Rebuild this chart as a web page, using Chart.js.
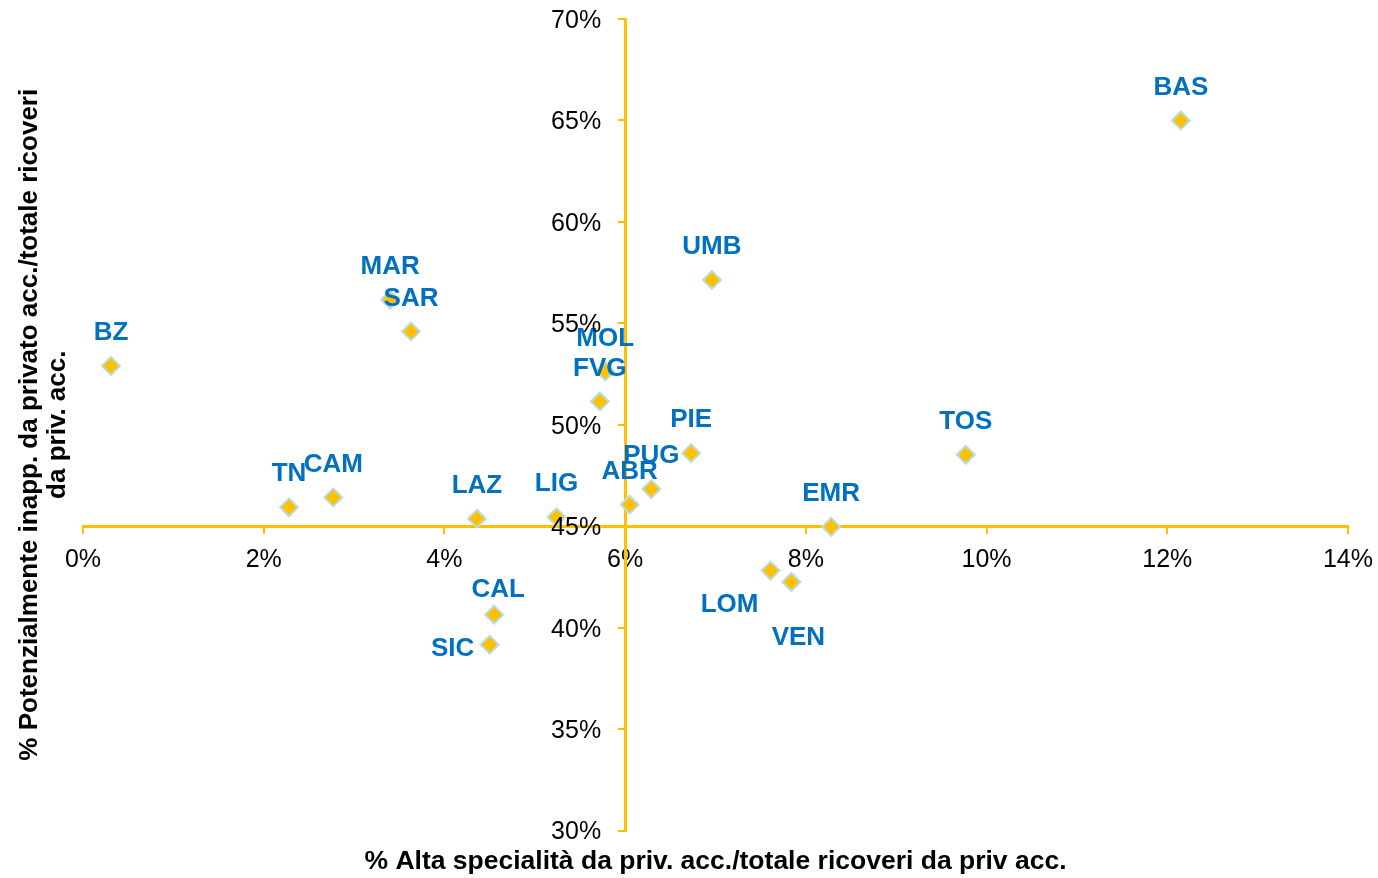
<!DOCTYPE html>
<html lang="it">
<head>
    <meta charset="UTF-8">
    <title>Alta specialità vs potenzialmente inappropriati</title>
    <script src="https://cdn.jsdelivr.net/npm/chart.js@4.4.0/dist/chart.umd.min.js"></script>
    <style>
        body {
            margin: 0;
            background-color: #fff;
        }
        #wrap {
            width: 1378px;
            height: 878px;
            position: relative;
        }
    </style>
</head>
<body>
    <div id="wrap">
        <canvas id="scatterChart"></canvas>
    </div>

    <script>
        // Regioni e valori (in %)
        const regioni = ['BAS', 'UMB', 'MAR', 'SAR', 'BZ', 'MOL', 'FVG', 'PIE', 'TOS', 'PUG',
                         'ABR', 'CAM', 'TN', 'LIG', 'LAZ', 'EMR', 'LOM', 'VEN', 'CAL', 'SIC'];
        const altaSpecialita = [12.15, 6.96, 3.40, 3.63, 0.31, 5.78, 5.72, 6.73, 9.77, 6.29,
                                6.05, 2.77, 2.28, 5.24, 4.36, 8.28, 7.61, 7.84, 4.55, 4.50];
        const inappropriati = [65.0, 57.14, 56.16, 54.6, 52.9, 52.63, 51.15, 48.6, 48.52, 46.83,
                               46.06, 46.42, 45.93, 45.45, 45.37, 44.97, 42.81, 42.25, 40.64, 39.16];
        const xTicks = [0, 2, 4, 6, 8, 10, 12, 14];
        const yTicks = [30, 35, 40, 45, 50, 55, 60, 65, 70];

        const giallo = '#FFC000';
        const blu = '#0070C0';
        const fontFam = '"Liberation Sans", Arial, sans-serif';

        // spostamento etichette rispetto al punto (px)
        const labelShift = {
            LOM: [-41, 34],
            VEN: [7, 56],
            SIC: [-37, 4],
            CAL: [4, -25]
        };

        const punti = regioni.map((r, i) => ({ x: altaSpecialita[i], y: inappropriati[i] }));

        const etichette = {
            id: 'etichette',
            afterDatasetsDraw(chart) {
                const ctx = chart.ctx;
                const meta = chart.getDatasetMeta(0);
                ctx.save();
                ctx.font = 'bold 26px ' + fontFam;
                ctx.fillStyle = blu;
                ctx.textAlign = 'center';
                ctx.textBaseline = 'middle';
                meta.data.forEach((el, i) => {
                    const s = labelShift[regioni[i]] || [0, -33];
                    ctx.fillText(regioni[i], el.x + s[0], el.y + s[1]);
                });
                ctx.restore();
            }
        };

        // etichette asse y a sinistra dell'asse che incrocia a 6%
        const tickY = {
            id: 'tickY',
            afterDraw(chart) {
                const ctx = chart.ctx;
                const xs = chart.scales.x;
                const ys = chart.scales.y;
                const xPos = xs.getPixelForValue(6) - 24;
                ctx.save();
                ctx.font = '25px ' + fontFam;
                ctx.fillStyle = '#000';
                ctx.textAlign = 'right';
                ctx.textBaseline = 'middle';
                ys.ticks.forEach(t => {
                    ctx.fillText(t.value + '%', xPos, ys.getPixelForValue(t.value) + 2);
                });
                ctx.restore();
            }
        };

        const ctx = document.getElementById('scatterChart').getContext('2d');
        new Chart(ctx, {
            type: 'scatter',
            data: {
                datasets: [{
                    data: punti,
                    pointStyle: 'rectRot',
                    pointRadius: 9,
                    pointHoverRadius: 9,
                    backgroundColor: giallo,
                    borderColor: '#B7DDE8',
                    borderWidth: 2
                }]
            },
            options: {
                responsive: true,
                maintainAspectRatio: false,
                animation: false,
                layout: {
                    padding: { left: 0, right: 30, top: 19, bottom: 0 }
                },
                scales: {
                    x: {
                        type: 'linear',
                        position: { y: 45 },
                        min: 0,
                        max: 14,
                        afterBuildTicks: (axis) => { axis.ticks = xTicks.map(v => ({ value: v })); },
                        ticks: {
                            color: '#000',
                            padding: 5,
                            font: { family: fontFam, size: 25, lineHeight: '46px' },
                            callback: (v) => v + '%'
                        },
                        grid: { drawOnChartArea: false, color: giallo, lineWidth: 2, tickLength: 6 },
                        border: { color: giallo, width: 3 }
                    },
                    y: {
                        type: 'linear',
                        position: { x: 6 },
                        min: 30,
                        max: 70,
                        afterBuildTicks: (axis) => { axis.ticks = yTicks.map(v => ({ value: v })); },
                        ticks: { display: false },
                        grid: { drawOnChartArea: false, color: giallo, lineWidth: 2, tickLength: 6 },
                        border: { color: giallo, width: 3 }
                    }
                },
                plugins: {
                    legend: { display: false },
                    tooltip: { enabled: false },
                    title: {
                        display: true,
                        position: 'bottom',
                        fullSize: false,
                        text: '% Alta specialità da priv. acc./totale ricoveri da priv acc.',
                        color: '#000',
                        font: { family: fontFam, size: 26.5, weight: 'bold', lineHeight: 1.0 },
                        padding: { top: 18, bottom: 3 }
                    },
                    subtitle: {
                        display: true,
                        position: 'left',
                        fullSize: false,
                        text: ['% Potenzialmente inapp. da privato acc./totale ricoveri', 'da priv. acc.'],
                        color: '#000',
                        font: { family: fontFam, size: 26, weight: 'bold', lineHeight: '28px' },
                        padding: { top: 16, bottom: 11 }
                    }
                }
            },
            plugins: [etichette, tickY]
        });
    </script>
</body>
</html>
